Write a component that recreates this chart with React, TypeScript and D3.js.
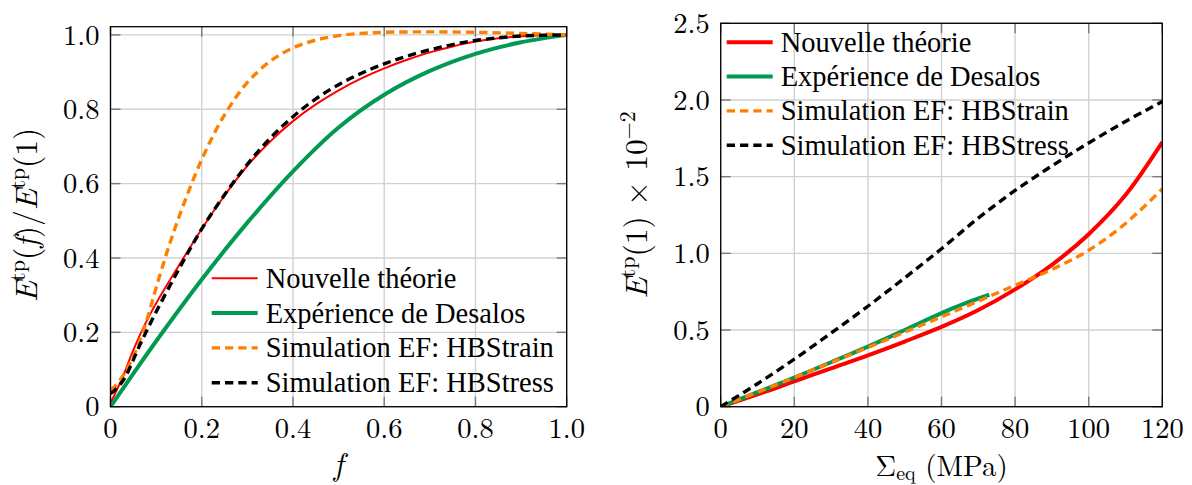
import React from 'react';
import * as d3 from 'd3';

// left panel: normalised modulus vs f
const theoryLeft: [number, number][] = [
  [0, 0.01], [0.025, 0.075], [0.05, 0.152], [0.075, 0.22], [0.1, 0.278], [0.15, 0.38],
  [0.2, 0.478], [0.25, 0.568], [0.3, 0.648], [0.35, 0.713], [0.4, 0.768], [0.45, 0.813],
  [0.5, 0.851], [0.55, 0.883], [0.6, 0.91], [0.65, 0.933], [0.7, 0.953], [0.75, 0.969],
  [0.8, 0.982], [0.85, 0.991], [0.9, 0.996], [0.95, 0.999], [1.0, 1.0],
];
const desalosLeft: [number, number][] = [
  [0, 0], [0.05, 0.089], [0.1, 0.176], [0.2, 0.342], [0.3, 0.495], [0.4, 0.633],
  [0.5, 0.751], [0.6, 0.839], [0.7, 0.903], [0.8, 0.949], [0.9, 0.98], [1.0, 1.0],
];
const strainLeft: [number, number][] = [
  [0, 0.045], [0.01, 0.055], [0.03, 0.088], [0.05, 0.135], [0.075, 0.215], [0.1, 0.32],
  [0.125, 0.42], [0.15, 0.51], [0.2, 0.665], [0.25, 0.785], [0.3, 0.872], [0.35, 0.929],
  [0.4, 0.965], [0.45, 0.986], [0.5, 0.998], [0.55, 1.004], [0.6, 1.007], [0.7, 1.008],
  [0.8, 1.007], [0.9, 1.004], [1.0, 1.0],
];
const stressLeft: [number, number][] = [
  [0, 0.035], [0.01, 0.045], [0.03, 0.075], [0.065, 0.168], [0.1, 0.255], [0.15, 0.37],
  [0.2, 0.478], [0.25, 0.57], [0.3, 0.652], [0.35, 0.722], [0.4, 0.78], [0.45, 0.828],
  [0.5, 0.866], [0.55, 0.897], [0.6, 0.922], [0.65, 0.943], [0.7, 0.96], [0.75, 0.974],
  [0.8, 0.985], [0.85, 0.992], [0.9, 0.997], [0.95, 0.999], [1.0, 1.0],
];

// right panel: E(1) x 1e-2 vs Sigma_eq
const theoryRight: [number, number][] = [
  [0, 0], [10, 0.08], [20, 0.165], [30, 0.25], [40, 0.335], [50, 0.425], [60, 0.52],
  [70, 0.63], [80, 0.765], [90, 0.925], [100, 1.125], [110, 1.38], [120, 1.725],
];
const desalosRight: [number, number][] = [
  [0, 0], [10, 0.095], [20, 0.19], [30, 0.29], [40, 0.392], [50, 0.5], [60, 0.61],
  [66, 0.67], [73, 0.73],
];
const strainRight: [number, number][] = [
  [0, 0], [10, 0.095], [20, 0.19], [30, 0.288], [40, 0.386], [50, 0.486], [60, 0.586],
  [70, 0.688], [80, 0.792], [90, 0.895], [100, 1.02], [110, 1.195], [120, 1.42],
];
const stressRight: [number, number][] = [
  [0, 0], [10, 0.15], [20, 0.31], [30, 0.48], [40, 0.655], [50, 0.84], [60, 1.03],
  [70, 1.23], [80, 1.41], [90, 1.57], [100, 1.72], [110, 1.86], [120, 1.99],
];

const ticksLeftX = [0, 0.2, 0.4, 0.6, 0.8, 1.0];
const ticksLeftY = [0, 0.2, 0.4, 0.6, 0.8, 1.0];
const ticksRightX = [0, 20, 40, 60, 80, 100, 120];
const ticksRightY = [0, 0.5, 1.0, 1.5, 2.0, 2.5];

const legendLabels = [
  'Nouvelle théorie',
  'Expérience de Desalos',
  'Simulation EF: HBStrain',
  'Simulation EF: HBStress',
];

const RED = '#ff0000';
const GREEN = '#009a52';
const ORANGE = '#ff8000';
const BLACK = '#000000';
const DASH = '8.3,5';
const TEXT_FONT = "'Liberation Serif', 'Times New Roman', serif";
const MATH_FONT = "'Latin Modern Roman', 'Liberation Serif', serif";
const FS = 28.5;
const LABEL_FS = 31.5;
const SUP_FS = 22;

type Series = { data: [number, number][]; color: string; width: number; dash?: string };

function Panel(props: {
  x: d3.ScaleLinear<number, number>;
  y: d3.ScaleLinear<number, number>;
  xTicks: number[];
  yTicks: number[];
  xFmt: (v: number) => string;
  yFmt: (v: number) => string;
  series: Series[];
  legendX: number;
  legendY: number;
  legendStep: number;
}) {
  const { x, y, xTicks, yTicks, series } = props;
  const [x0, x1] = x.range();
  const [y0, y1] = y.range();
  const line = d3.line<[number, number]>()
    .x(d => x(d[0]))
    .y(d => y(d[1]))
    .curve(d3.curveCatmullRom.alpha(0.5));
  const clipId = 'clip' + Math.round(x0);
  return (
    <g>
      <defs>
        <clipPath id={clipId}>
          <rect x={x0} y={y1} width={x1 - x0} height={y0 - y1} />
        </clipPath>
      </defs>
      {/* grid */}
      {xTicks.map(t => (
        <line key={'gx' + t} x1={x(t)} x2={x(t)} y1={y0} y2={y1} stroke="#d2d2d2" strokeWidth={1.4} />
      ))}
      {yTicks.map(t => (
        <line key={'gy' + t} x1={x0} x2={x1} y1={y(t)} y2={y(t)} stroke="#d2d2d2" strokeWidth={1.4} />
      ))}
      {/* inner ticks on every side */}
      {xTicks.map(t => (
        <g key={'tx' + t} stroke="#7a7a7a" strokeWidth={1.4}>
          <line x1={x(t)} x2={x(t)} y1={y0} y2={y0 - 10} />
          <line x1={x(t)} x2={x(t)} y1={y1} y2={y1 + 10} />
        </g>
      ))}
      {yTicks.map(t => (
        <g key={'ty' + t} stroke="#7a7a7a" strokeWidth={1.4}>
          <line x1={x0} x2={x0 + 10} y1={y(t)} y2={y(t)} />
          <line x1={x1} x2={x1 - 10} y1={y(t)} y2={y(t)} />
        </g>
      ))}
      {/* curves */}
      <g clipPath={`url(#${clipId})`}>
        {series.map((s, i) => (
          <path key={i} d={line(s.data) || ''} fill="none" stroke={s.color}
            strokeWidth={s.width} strokeDasharray={s.dash} />
        ))}
      </g>
      <rect x={x0} y={y1} width={x1 - x0} height={y0 - y1} fill="none" stroke="#000" strokeWidth={1.3} />
      {/* tick labels */}
      <g style={{ fontFamily: MATH_FONT }} fontSize={FS} fill="#000">
        {xTicks.map(t => (
          <text key={'lx' + t} x={x(t)} y={y0 + 31} textAnchor="middle">{props.xFmt(t)}</text>
        ))}
        {yTicks.map(t => (
          <text key={'ly' + t} x={x0 - 11} y={y(t)} dy="0.34em" textAnchor="end">{props.yFmt(t)}</text>
        ))}
      </g>
      {/* legend */}
      <g style={{ fontFamily: TEXT_FONT }} fontSize={FS} fill="#000">
        {series.map((s, i) => {
          const ly = props.legendY + i * props.legendStep;
          return (
            <g key={'lg' + i}>
              <line x1={props.legendX} x2={props.legendX + 46} y1={ly} y2={ly}
                stroke={s.color} strokeWidth={s.width} strokeDasharray={s.dash} />
              <text x={props.legendX + 54} y={ly} dy="0.33em">{legendLabels[i]}</text>
            </g>
          );
        })}
      </g>
    </g>
  );
}

export default function App() {
  const xL = d3.scaleLinear().domain([0, 1]).range([110.5, 566.7]);
  const yL = d3.scaleLinear().domain([0, 1.022]).range([406.7, 26.7]);
  const xR = d3.scaleLinear().domain([0, 120]).range([720.7, 1162.3]);
  const yR = d3.scaleLinear().domain([0, 2.5]).range([406.7, 23.3]);

  const fmtLeft = (v: number) => (v === 0 ? '0' : v.toFixed(1));
  const fmtRightY = (v: number) => (v === 0 ? '0' : v.toFixed(1));
  const fmtRightX = (v: number) => String(v);

  return (
    <svg width={1192} height={485} style={{ position: 'absolute', left: 0, top: 0, background: '#fff' }}>
      <Panel x={xL} y={yL} xTicks={ticksLeftX} yTicks={ticksLeftY} xFmt={fmtLeft} yFmt={fmtLeft}
        series={[
          { data: theoryLeft, color: RED, width: 2 },
          { data: desalosLeft, color: GREEN, width: 4 },
          { data: strainLeft, color: ORANGE, width: 3.4, dash: DASH },
          { data: stressLeft, color: BLACK, width: 3.4, dash: DASH },
        ]}
        legendX={211.7} legendY={278.3} legendStep={34.8} />
      <Panel x={xR} y={yR} xTicks={ticksRightX} yTicks={ticksRightY} xFmt={fmtRightX} yFmt={fmtRightY}
        series={[
          { data: theoryRight, color: RED, width: 4 },
          { data: desalosRight, color: GREEN, width: 4 },
          { data: strainRight, color: ORANGE, width: 3.4, dash: DASH },
          { data: stressRight, color: BLACK, width: 3.4, dash: DASH },
        ]}
        legendX={726.7} legendY={42.3} legendStep={34.3} />

      {/* axis titles */}
      <g style={{ fontFamily: MATH_FONT }} fontSize={LABEL_FS} fill="#000">
        <text x={338.6} y={475} textAnchor="middle" fontStyle="italic">f</text>
        <text transform="translate(37,215) rotate(-90)" textAnchor="middle">
          <tspan fontStyle="italic">E</tspan>
          <tspan fontSize={SUP_FS} dy={-12}>tp</tspan>
          <tspan dy={12}>(</tspan>
          <tspan fontStyle="italic">f</tspan>
          <tspan>)/</tspan>
          <tspan fontStyle="italic">E</tspan>
          <tspan fontSize={SUP_FS} dy={-12}>tp</tspan>
          <tspan dy={12}>(1)</tspan>
        </text>
        <text x={941.5} y={476} textAnchor="middle" fontSize={29}>
          <tspan>Σ</tspan>
          <tspan fontSize={20} dy={4}>eq</tspan>
          <tspan dy={-4}> (MPa)</tspan>
        </text>
        <text transform="translate(646.7,205) rotate(-90)" textAnchor="middle">
          <tspan fontStyle="italic">E</tspan>
          <tspan fontSize={SUP_FS} dy={-12}>tp</tspan>
          <tspan dy={12}>(1) × 10</tspan>
          <tspan fontSize={SUP_FS} dy={-12}>−2</tspan>
        </text>
      </g>
    </svg>
  );
}
